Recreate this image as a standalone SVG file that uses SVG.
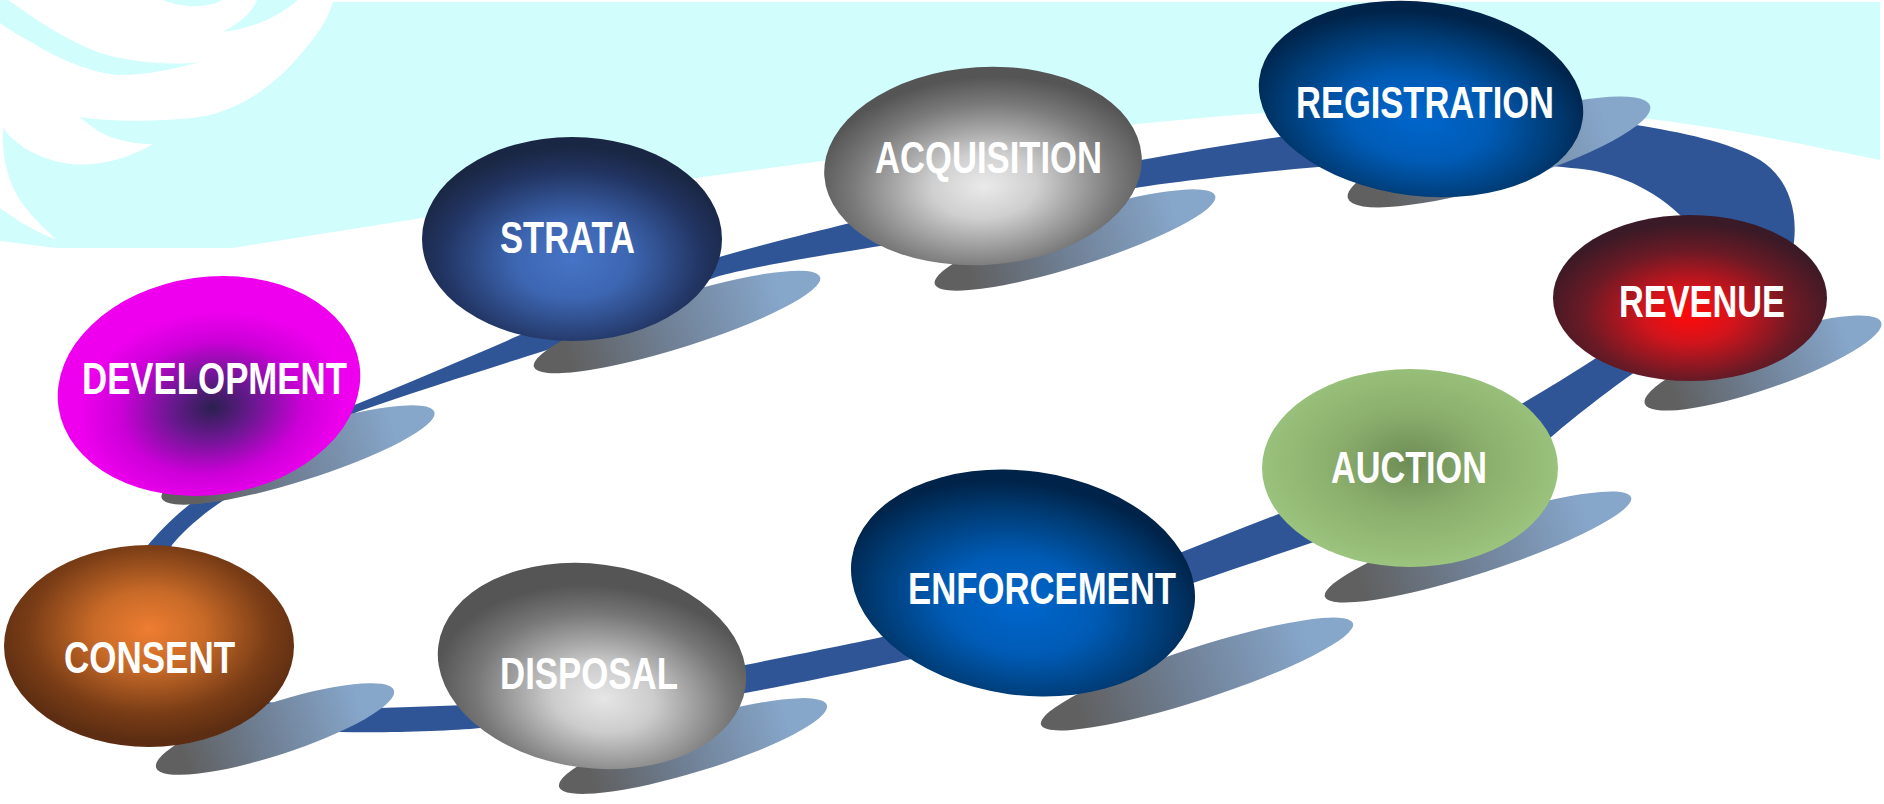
<svg xmlns="http://www.w3.org/2000/svg" width="1884" height="804" viewBox="0 0 1884 804">
<style>
.lbl{font-family:"Liberation Sans",Arial,sans-serif;font-weight:bold;font-size:44px;fill:#ffffff}
.bg{fill:#d1fdfd}
.band{fill:#2f5597;fill-rule:evenodd}
.shadow{fill:url(#gShadow)}
</style>
<defs>
<linearGradient id="gShadow" x1="0" y1="0" x2="1" y2="0">
<stop offset="0.12" stop-color="#606060"/>
<stop offset="0.45" stop-color="#6f7f94"/>
<stop offset="0.85" stop-color="#86a6ca"/>
</linearGradient>
<radialGradient id="gDev" cx="0.5" cy="0.6" r="0.55">
<stop offset="0" stop-color="#2b2050"/>
<stop offset="0.25" stop-color="#6a1890"/>
<stop offset="0.55" stop-color="#cc00d8"/>
<stop offset="0.8" stop-color="#ee00ee"/>
</radialGradient>
<radialGradient id="gStrata" cx="0.5" cy="0.6" r="0.55">
<stop offset="0" stop-color="#4674c6"/>
<stop offset="0.35" stop-color="#3d66b2"/>
<stop offset="0.8" stop-color="#213360"/>
<stop offset="1" stop-color="#1a2744"/>
</radialGradient>
<radialGradient id="gAcq" cx="0.5" cy="0.6" r="0.55">
<stop offset="0" stop-color="#eaeaea"/>
<stop offset="0.3" stop-color="#cfcfcf"/>
<stop offset="0.75" stop-color="#7a7a7a"/>
<stop offset="1" stop-color="#555555"/>
</radialGradient>
<radialGradient id="gBlue" cx="0.5" cy="0.6" r="0.55">
<stop offset="0" stop-color="#0066cc"/>
<stop offset="0.4" stop-color="#005bb5"/>
<stop offset="0.8" stop-color="#00386e"/>
<stop offset="1" stop-color="#002349"/>
</radialGradient>
<radialGradient id="gRev" cx="0.5" cy="0.6" r="0.55">
<stop offset="0" stop-color="#ff0a0a"/>
<stop offset="0.3" stop-color="#d3141c"/>
<stop offset="0.7" stop-color="#6b1a25"/>
<stop offset="1" stop-color="#3a1a26"/>
</radialGradient>
<radialGradient id="gAuc" cx="0.5" cy="0.47" r="0.55">
<stop offset="0" stop-color="#6d8c55"/>
<stop offset="0.45" stop-color="#8aad6c"/>
<stop offset="1" stop-color="#9dc67f"/>
</radialGradient>
<radialGradient id="gDis" cx="0.55" cy="0.65" r="0.55">
<stop offset="0" stop-color="#e6e6e6"/>
<stop offset="0.3" stop-color="#cccccc"/>
<stop offset="0.75" stop-color="#777777"/>
<stop offset="1" stop-color="#555555"/>
</radialGradient>
<radialGradient id="gCon" cx="0.5" cy="0.42" r="0.55">
<stop offset="0" stop-color="#ee7d31"/>
<stop offset="0.35" stop-color="#c86a28"/>
<stop offset="0.75" stop-color="#7a3d16"/>
<stop offset="1" stop-color="#5c2d12"/>
</radialGradient>
</defs>

<g id="background">
<rect x="0" y="0" width="1884" height="804" fill="#ffffff"/>
<path class="bg" d="M 333,2 L 1880,2 L 1880,160 C 1780,140 1700,122 1600,114 C 1480,104 1330,106 1200,118 C 1000,136 700,175 422,218 L 232,248 L 57,248 L 0,241 L 0,208 C 10,215 30,230 57,240 C 40,225 20,205 12,185 C 5,168 2,148 3,128 C 15,145 40,160 70,164 C 100,167 130,158 153,144 C 130,144 110,138 100,132 C 92,127 85,122 80,117 C 110,122 160,122 200,117 C 240,110 275,85 300,55 C 315,38 328,20 333,2 Z"/>
<path class="bg" d="M 0,0 L 8,0 C 30,15 60,38 100,53 C 130,62 170,66 200,62 C 170,70 140,76 117,75 C 90,72 60,60 33,43 C 20,36 8,29 0,23 Z"/>
<path class="bg" d="M 163,0 C 175,5 190,7 200,6 C 210,5 218,3 222,0 Z"/>
<path class="bg" d="M 222,32 C 245,29 272,22 298,0 L 257,0 C 252,12 240,24 222,32 Z"/>
</g>

<g id="connectors">
<path class="band" d="M 148,545 C 158,533 180,510 200,497 C 240,470 300,428 352,406 C 410,382 470,357 520,335 C 570,312 650,278 716,258 C 760,245 810,233 850,223 C 950,202 1050,178 1141,160 C 1180,153 1230,144 1279,137 C 1380,124 1540,114 1636,125 C 1680,132 1730,142 1760,160 C 1785,176 1798,205 1794,242 C 1790,280 1700,330 1635,372 C 1615,386 1580,412 1550,438 C 1480,485 1380,520 1311,543 C 1270,557 1230,570 1196,582 C 1100,615 1000,640 907,660 C 880,666 810,681 745,693 C 680,705 570,720 480,728 C 450,731 390,733 340,732 C 260,731 170,735 135,680 C 118,640 128,570 148,545 Z M 172,545 C 180,535 200,515 227,498 C 270,470 320,430 357,412 C 420,390 490,368 547,350 C 600,330 660,298 716,277 C 745,268 830,254 880,246 C 960,230 1060,202 1135,188 C 1180,181 1260,172 1318,167 C 1400,160 1500,160 1571,168 C 1605,170 1645,182 1680,215 C 1700,235 1660,320 1593,360 C 1570,375 1545,390 1523,403 C 1450,440 1340,490 1276,515 C 1245,527 1212,540 1182,552 C 1090,585 980,615 882,637 C 850,644 800,654 745,665 C 680,680 560,700 467,705 C 440,706 410,707 380,708 C 320,708 240,707 200,680 C 175,660 160,570 172,545 Z"/>
</g>

<g id="shadows">
<ellipse class="shadow" cx="298" cy="455" rx="143" ry="26" transform="rotate(-17.5 298 455)"/>
<ellipse class="shadow" cx="677" cy="322" rx="150" ry="26" transform="rotate(-17.4 677 322)"/>
<ellipse class="shadow" cx="1075" cy="240" rx="147" ry="26" transform="rotate(-17.5 1075 240)"/>
<ellipse class="shadow" cx="1499" cy="152" rx="158" ry="32" transform="rotate(-17 1499 152)"/>
<ellipse class="shadow" cx="1763" cy="363" rx="125" ry="26" transform="rotate(-19 1763 363)"/>
<ellipse class="shadow" cx="1478" cy="547" rx="161" ry="26" transform="rotate(-18 1478 547)"/>
<ellipse class="shadow" cx="1197" cy="674" rx="164" ry="26" transform="rotate(-18 1197 674)"/>
<ellipse class="shadow" cx="693" cy="746" rx="140" ry="26" transform="rotate(-17 693 746)"/>
<ellipse class="shadow" cx="275" cy="729" rx="125" ry="26" transform="rotate(-18 275 729)"/>
</g>

<g id="node-development">
<ellipse cx="209" cy="386" rx="152" ry="109" fill="url(#gDev)" transform="rotate(-8 209 386)"/>
<text class="lbl" x="82" y="394" textLength="265" lengthAdjust="spacingAndGlyphs">DEVELOPMENT</text>
</g>
<g id="node-strata">
<ellipse cx="572" cy="239" rx="150" ry="102" fill="url(#gStrata)"/>
<text class="lbl" x="500" y="253" textLength="135" lengthAdjust="spacingAndGlyphs">STRATA</text>
</g>
<g id="node-acquisition">
<ellipse cx="983" cy="166" rx="159" ry="99" fill="url(#gAcq)" transform="rotate(-3.6 983 166)"/>
<text class="lbl" x="875" y="173" textLength="227" lengthAdjust="spacingAndGlyphs">ACQUISITION</text>
</g>
<g id="node-registration">
<ellipse cx="1421" cy="99" rx="163" ry="97" fill="url(#gBlue)" transform="rotate(7 1421 99)"/>
<text class="lbl" x="1296" y="118" textLength="258" lengthAdjust="spacingAndGlyphs">REGISTRATION</text>
</g>
<g id="node-revenue">
<ellipse cx="1690" cy="298" rx="137" ry="83" fill="url(#gRev)"/>
<text class="lbl" x="1619" y="317" textLength="166" lengthAdjust="spacingAndGlyphs">REVENUE</text>
</g>
<g id="node-auction">
<ellipse cx="1410" cy="468" rx="148" ry="99" fill="url(#gAuc)"/>
<text class="lbl" x="1331" y="483" textLength="156" lengthAdjust="spacingAndGlyphs">AUCTION</text>
</g>
<g id="node-enforcement">
<ellipse cx="1023" cy="583" rx="173" ry="112" fill="url(#gBlue)" transform="rotate(8 1023 583)"/>
<text class="lbl" x="908" y="604" textLength="268" lengthAdjust="spacingAndGlyphs">ENFORCEMENT</text>
</g>
<g id="node-disposal">
<ellipse cx="592" cy="666" rx="155" ry="102" fill="url(#gDis)" transform="rotate(7.7 592 666)"/>
<text class="lbl" x="500" y="689" textLength="178" lengthAdjust="spacingAndGlyphs">DISPOSAL</text>
</g>
<g id="node-consent">
<ellipse cx="149" cy="646" rx="145" ry="101" fill="url(#gCon)"/>
<text class="lbl" x="64" y="673" textLength="171" lengthAdjust="spacingAndGlyphs">CONSENT</text>
</g>
</svg>
